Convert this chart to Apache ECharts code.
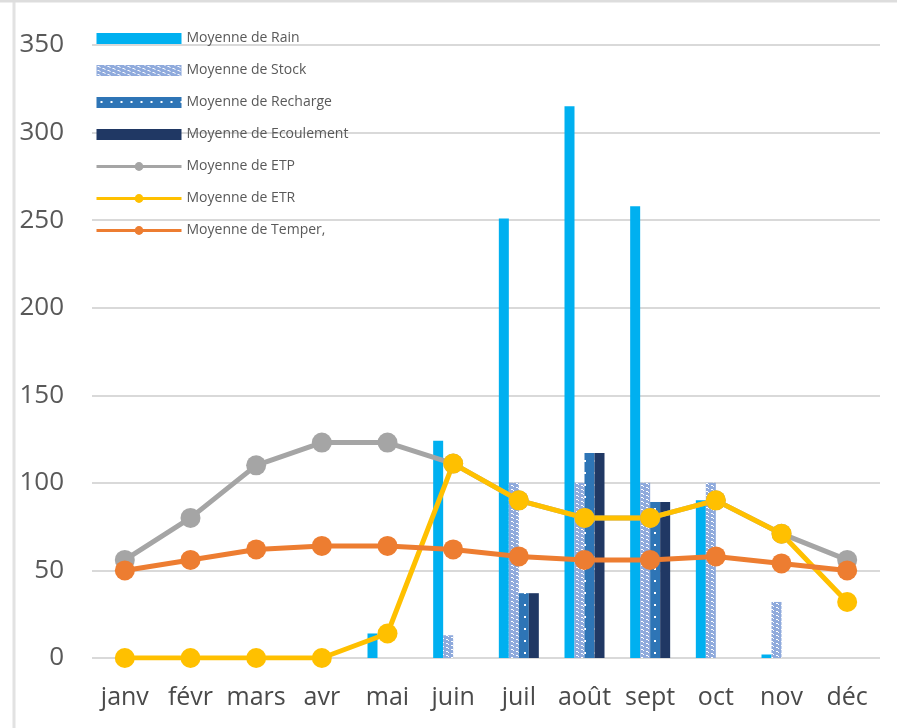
<!DOCTYPE html>
<html>
<head>
<meta charset="utf-8">
<script src="https://cdn.jsdelivr.net/npm/echarts@6/dist/echarts.min.js"></script>
<style>
  html, body { margin: 0; padding: 0; background: #fff; }
  #chart { width: 897px; height: 728px; }
</style>
</head>
<body>
<div id="chart"></div>
<script>
const months = ['janv', 'févr', 'mars', 'avr', 'mai', 'juin', 'juil', 'août', 'sept', 'oct', 'nov', 'déc']
const yTicks = [0, 50, 100, 150, 200, 250, 300, 350]

const rain = [0, 0, 0, 0, 14, 124, 251, 315, 258, 90, 2, 0]
const stock = [0, 0, 0, 0, 0, 13, 100, 100, 100, 100, 32, 0]
const recharge = [0, 0, 0, 0, 0, 0, 37, 117, 89, 0, 0, 0]
const ecoulement = [0, 0, 0, 0, 0, 0, 37, 117, 89, 0, 0, 0]
const etp = [56, 80, 110, 123, 123, 111, 90, 80, 80, 90, 71, 56]
const etr = [0, 0, 0, 0, 14, 111, 90, 80, 80, 90, 71, 32]
const temper = [50, 56, 62, 64, 64, 62, 58, 56, 56, 58, 54, 50]

// small canvas fills for the patterned bars
function makePattern(bg, dots, w, h) {
  const c = document.createElement('canvas')
  c.width = w
  c.height = h
  const ctx = c.getContext('2d')
  ctx.fillStyle = bg
  ctx.fillRect(0, 0, w, h)
  ctx.fillStyle = '#ffffff'
  dots.forEach(d => ctx.fillRect(d[0], d[1], d[2], d[3]))
  return { image: c, repeat: 'repeat' }
}
const stockFill = makePattern('#8faadc', [[1, 1, 2, 1], [6, 3, 2, 1], [3, 2, 1, 1], [8, 0, 1, 1]], 10, 4)
const rechargeFill = makePattern('#2e75b6', [[4, 4, 2, 2]], 10, 12)

const chart = echarts.init(document.getElementById('chart'))

const barBase = { type: 'bar', barWidth: 10, barGap: '0%', z: 2 }
const lineBase = {
  type: 'line',
  symbol: 'circle',
  symbolSize: 20,
  z: 3,
  lineStyle: { width: 5 }
}

chart.setOption({
  animation: false,
  backgroundColor: '#ffffff',
  textStyle: { fontFamily: 'Open Sans' },
  grid: { left: 92, right: 17, top: 45, bottom: 70 },
  legend: {
    orient: 'vertical',
    left: 90,
    top: 26,
    itemWidth: 85,
    itemHeight: 11,
    itemGap: 17,
    textStyle: { fontSize: 14, color: '#595959', lineHeight: 15 },
    lineStyle: { width: 3 },
    data: [
      { name: 'Moyenne de Rain', icon: 'rect' },
      { name: 'Moyenne de Stock', icon: 'rect' },
      { name: 'Moyenne de Recharge', icon: 'rect' },
      { name: 'Moyenne de Ecoulement', icon: 'rect' },
      { name: 'Moyenne de ETP' },
      { name: 'Moyenne de ETR' },
      { name: 'Moyenne de Temper,' }
    ]
  },
  graphic: [
    { type: 'line', shape: { x1: 14, y1: 0, x2: 14, y2: 728 }, style: { stroke: '#e2e2e2', lineWidth: 3 } },
    { type: 'line', shape: { x1: 0, y1: 1, x2: 897, y2: 1 }, style: { stroke: '#dddddd', lineWidth: 3 } }
  ],
  xAxis: {
    type: 'category',
    data: months,
    axisLine: { show: false },
    axisTick: { show: false },
    axisLabel: { fontSize: 25, color: '#4a4a4a', margin: 27, interval: 0, hideOverlap: false }
  },
  yAxis: {
    type: 'value',
    min: 0,
    max: yTicks[yTicks.length - 1],
    interval: 50,
    axisLabel: { fontSize: 26, color: '#595959', margin: 28 },
    splitLine: { lineStyle: { color: '#d9d9d9', width: 2 } }
  },
  series: [
    { ...barBase, name: 'Moyenne de Rain', data: rain, itemStyle: { color: '#00b0f0' } },
    { ...barBase, name: 'Moyenne de Stock', data: stock, itemStyle: { color: stockFill } },
    { ...barBase, name: 'Moyenne de Recharge', data: recharge, itemStyle: { color: rechargeFill } },
    { ...barBase, name: 'Moyenne de Ecoulement', data: ecoulement, itemStyle: { color: '#203864' } },
    { ...lineBase, name: 'Moyenne de ETP', data: etp, itemStyle: { color: '#a5a5a5' }, lineStyle: { width: 5, color: '#a5a5a5' } },
    { ...lineBase, name: 'Moyenne de ETR', data: etr, itemStyle: { color: '#ffc000' }, lineStyle: { width: 5, color: '#ffc000' } },
    { ...lineBase, name: 'Moyenne de Temper,', data: temper, itemStyle: { color: '#ed7d31' }, lineStyle: { width: 5, color: '#ed7d31' } }
  ]
})
</script>
</body>
</html>
